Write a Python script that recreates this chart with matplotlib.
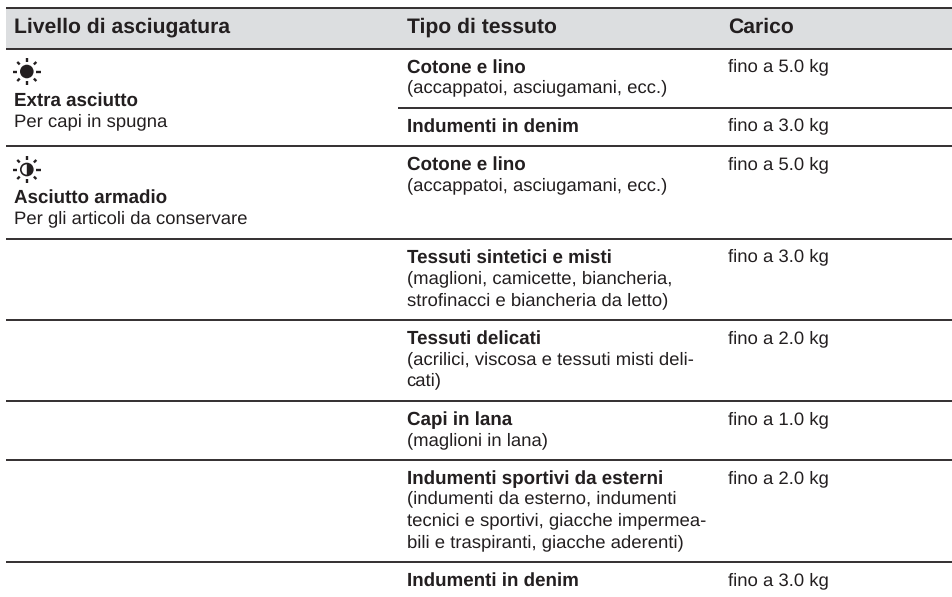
import math

import matplotlib
matplotlib.use("Agg")
import matplotlib.pyplot as plt
from matplotlib.patches import Circle, Wedge, Rectangle

plt.rcParams['font.family'] = ['Liberation Sans', 'DejaVu Sans']
plt.rcParams['text.hinting'] = 'no_hinting'

INK = '#231f20'
BAND = '#dcdee0'

headers = ['Livello di asciugatura', 'Tipo di tessuto', 'Carico']

levels = [
    ('Extra asciutto', 'Per capi in spugna'),
    ('Asciutto armadio', 'Per gli articoli da conservare'),
]

fabrics = [
    ('Cotone e lino', ['(accappatoi, asciugamani, ecc.)']),
    ('Indumenti in denim', []),
    ('Cotone e lino', ['(accappatoi, asciugamani, ecc.)']),
    ('Tessuti sintetici e misti', ['(maglioni, camicette, biancheria,',
                                   'strofinacci e biancheria da letto)']),
    ('Tessuti delicati', ['(acrilici, viscosa e tessuti misti deli-', 'cati)']),
    ('Capi in lana', ['(maglioni in lana)']),
    ('Indumenti sportivi da esterni', ['(indumenti da esterno, indumenti',
                                       'tecnici e sportivi, giacche impermea-',
                                       'bili e traspiranti, giacche aderenti)']),
    ('Indumenti in denim', []),
]

loads = ['fino a 5.0 kg', 'fino a 3.0 kg', 'fino a 5.0 kg', 'fino a 3.0 kg',
         'fino a 2.0 kg', 'fino a 1.0 kg', 'fino a 2.0 kg', 'fino a 3.0 kg']

# layout, in pixels of the page
col_x = [14, 406.7, 728.5]
full_rules = [8, 48.5, 146, 239.3, 320, 400.8, 460, 562]
short_rules = [107.5]
row_base = [72.7, 131.7, 170, 262.7, 344.3, 425, 484, 586]
row_sub = [[93.3], [], [191.5], [284.5, 306.5], [365.3, 386.7], [446.7], [504.5, 526.5, 548.3], []]
level_base = [(106, 127), (203, 224)]
sun_pos = [(26.8, 71.5), (26.8, 169.5)]
HEAD_PT = 15.2
BODY_PT = 13.3
BOLD_PT = 13.5
REG_SHIFT = -1.0  # regular face lands a pixel low next to the bold one


def draw_rays(ax, cx, cy, long_in, long_out, diag_in, diag_out):
    for k in range(8):
        a = math.radians(45 * k)
        r0, r1 = (long_in, long_out) if k % 2 == 0 else (diag_in, diag_out)
        ax.plot([cx + r0 * math.cos(a), cx + r1 * math.cos(a)],
                [cy + r0 * math.sin(a), cy + r1 * math.sin(a)],
                color=INK, lw=1.7, solid_capstyle='butt')


fig = plt.figure(figsize=(9.53, 5.97), dpi=100)
ax = fig.add_axes([0, 0, 1, 1])
ax.set_xlim(0, 953)
ax.set_ylim(597, 0)
ax.axis('off')

ax.add_patch(Rectangle((6, 8), 947, 40.5, facecolor=BAND, edgecolor='none'))
for y in full_rules:
    ax.plot([6, 953], [y, y], color=INK, lw=1.3, solid_capstyle='butt')
for y in short_rules:
    ax.plot([398, 953], [y, y], color=INK, lw=1.3, solid_capstyle='butt')

for x, h in zip(col_x, headers):
    ax.text(x, 33, h, fontsize=HEAD_PT, fontweight='bold', color=INK, va='baseline')

for (name, note), (y0, y1) in zip(levels, level_base):
    ax.text(col_x[0], y0, name, fontsize=BOLD_PT, fontweight='bold', color=INK, va='baseline')
    ax.text(col_x[0], y1 + REG_SHIFT, note, fontsize=BODY_PT, color=INK, va='baseline')

for (name, notes), y0, ys, load in zip(fabrics, row_base, row_sub, loads):
    ax.text(col_x[1], y0, name, fontsize=BOLD_PT, fontweight='bold', color=INK, va='baseline')
    ax.text(col_x[2], y0 + REG_SHIFT, load, fontsize=BODY_PT, color=INK, va='baseline')
    for note, y in zip(notes, ys):
        ax.text(col_x[1], y + REG_SHIFT, note, fontsize=BODY_PT, color=INK, va='baseline')

# the two drying symbols
cx, cy = sun_pos[0]
ax.add_patch(Circle((cx, cy), 6.8, facecolor=INK, edgecolor='none'))
draw_rays(ax, cx, cy, 9.6, 13.8, 10, 13.5)

cx, cy = sun_pos[1]
ax.add_patch(Circle((cx, cy), 6.0, facecolor='white', edgecolor=INK, lw=1.2))
ax.add_patch(Wedge((cx, cy), 6.0, -90, 90, facecolor=INK, edgecolor='none'))
draw_rays(ax, cx, cy, 9.6, 13.8, 10, 13.5)

fig.savefig('out.png', dpi=100)
